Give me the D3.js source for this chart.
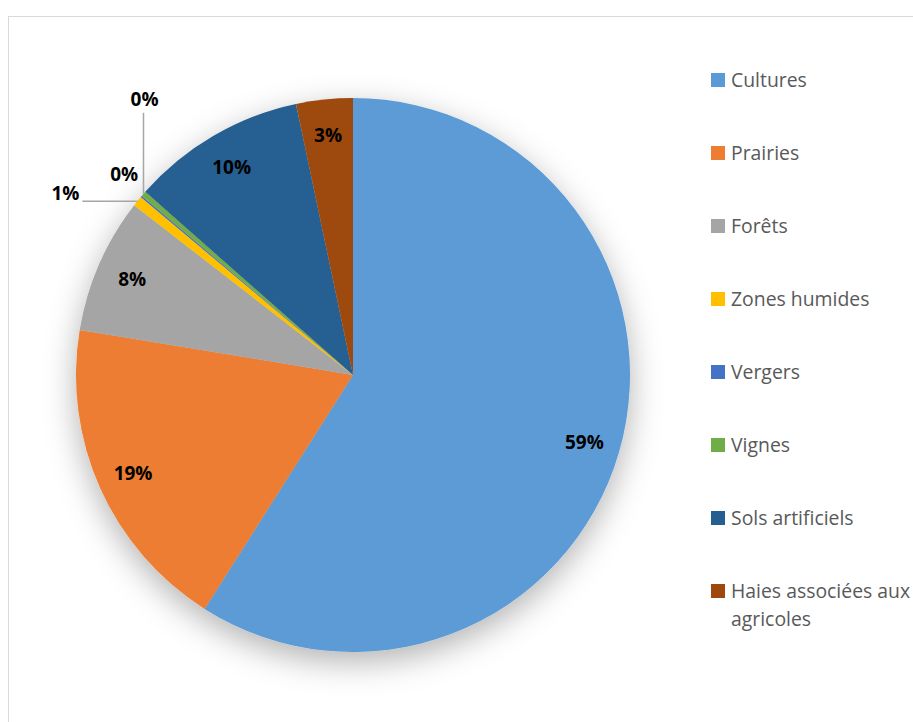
<!DOCTYPE html>
<html>
<head>
<meta charset="utf-8">
<script src="https://cdn.jsdelivr.net/npm/d3@7"></script>
<style>
  html, body { margin: 0; padding: 0; background: #fff; overflow: hidden; }
  svg { display: block; }
</style>
</head>
<body>
<svg id="chart" width="913" height="722"></svg>
<script>
// ---- data ----
const categories = ["Cultures", "Prairies", "Forêts", "Zones humides", "Vergers", "Vignes", "Sols artificiels", "Haies associées aux agricoles"];
const values = [59.0, 18.6, 7.9, 0.6, 0.1, 0.3, 10.2, 3.3];
const percentLabels = ["59%", "19%", "8%", "1%", "0%", "0%", "10%", "3%"];
const legendLines = [["Cultures"], ["Prairies"], ["Forêts"], ["Zones humides"], ["Vergers"], ["Vignes"], ["Sols artificiels"], ["Haies associées aux", "agricoles"]];
const colors = ["#5B9BD5", "#ED7D31", "#A5A5A5", "#FFC000", "#4472C4", "#70AD47", "#255E91", "#9E480E"];

// ---- layout ----
const cx = 353, cy = 375, R = 277;
const svg = d3.select("#chart");

// frame
svg.append("rect").attr("x", 8.5).attr("y", 16.5).attr("width", 1000).attr("height", 900)
  .attr("fill", "#fff").attr("stroke", "#d9d9d9").attr("stroke-width", 1);

const defs = svg.append("defs");
const f = defs.append("filter").attr("id", "shadow").attr("x", "-30%").attr("y", "-30%").attr("width", "160%").attr("height", "160%");
f.append("feDropShadow").attr("dx", 0).attr("dy", 10).attr("stdDeviation", 16)
  .attr("flood-color", "#000").attr("flood-opacity", 0.3);

const pie = d3.pie().sort(null).value(d => d);
const arcs = pie(values);
const arc = d3.arc().innerRadius(0).outerRadius(R);
const labelArc = d3.arc().innerRadius(R * 0.87).outerRadius(R * 0.87);

const g = svg.append("g").attr("transform", `translate(${cx},${cy})`);
g.append("g").attr("filter", "url(#shadow)")
  .selectAll("path").data(arcs).enter().append("path")
  .attr("d", arc).attr("fill", (d, i) => colors[i]);

// label placement: inside for big slices; small slices get leader lines
const labelMode = ["in", "in", "in", "left", "free", "up", "in", "in"];
const labelFont = "'Open Sans', Lato, sans-serif";

function edgePoint(d) {
  const a = (d.startAngle + d.endAngle) / 2;
  return [Math.sin(a) * R, -Math.cos(a) * R];
}

arcs.forEach((d, i) => {
  const mode = labelMode[i];
  let pos;
  if (mode === "in") {
    pos = labelArc.centroid(d);
  } else {
    const [ex, ey] = edgePoint(d);
    if (mode === "left") {
      const lx = ex - 55;
      g.append("line").attr("x1", ex).attr("y1", ey).attr("x2", lx).attr("y2", ey)
        .attr("stroke", "#a6a6a6").attr("stroke-width", 1.5);
      pos = [lx - 17, ey - 8];
    } else if (mode === "up") {
      const ly = ey - 81;
      g.append("line").attr("x1", ex).attr("y1", ey).attr("x2", ex).attr("y2", ly)
        .attr("stroke", "#a6a6a6").attr("stroke-width", 1.5);
      pos = [ex + 1, ly - 14];
    } else {
      pos = [ex - 17, ey - 22];
    }
  }
  g.append("text").attr("x", pos[0]).attr("y", pos[1])
    .attr("text-anchor", "middle").attr("dominant-baseline", "central")
    .attr("font-family", labelFont).attr("font-weight", "bold").attr("font-size", 19)
    .attr("fill", "#000").text(percentLabels[i]);
});

// legend
const leg = svg.append("g").attr("transform", "translate(711,80)");
const items = leg.selectAll("g").data(categories).enter().append("g")
  .attr("transform", (d, i) => `translate(0,${i * 73})`);
items.append("rect").attr("x", 0).attr("y", -7).attr("width", 14).attr("height", 14)
  .attr("fill", (d, i) => colors[i]);
items.each(function (d, i) {
  const t = d3.select(this).append("text").attr("x", 20).attr("y", 0)
    .attr("font-family", "'Open Sans', sans-serif").attr("font-size", 19.4).attr("fill", "#595959");
  legendLines[i].forEach((ln, j) => {
    t.append("tspan").attr("x", 20).attr("y", j * 28).attr("dy", "0.35em").text(ln);
  });
});
</script>
</body>
</html>
